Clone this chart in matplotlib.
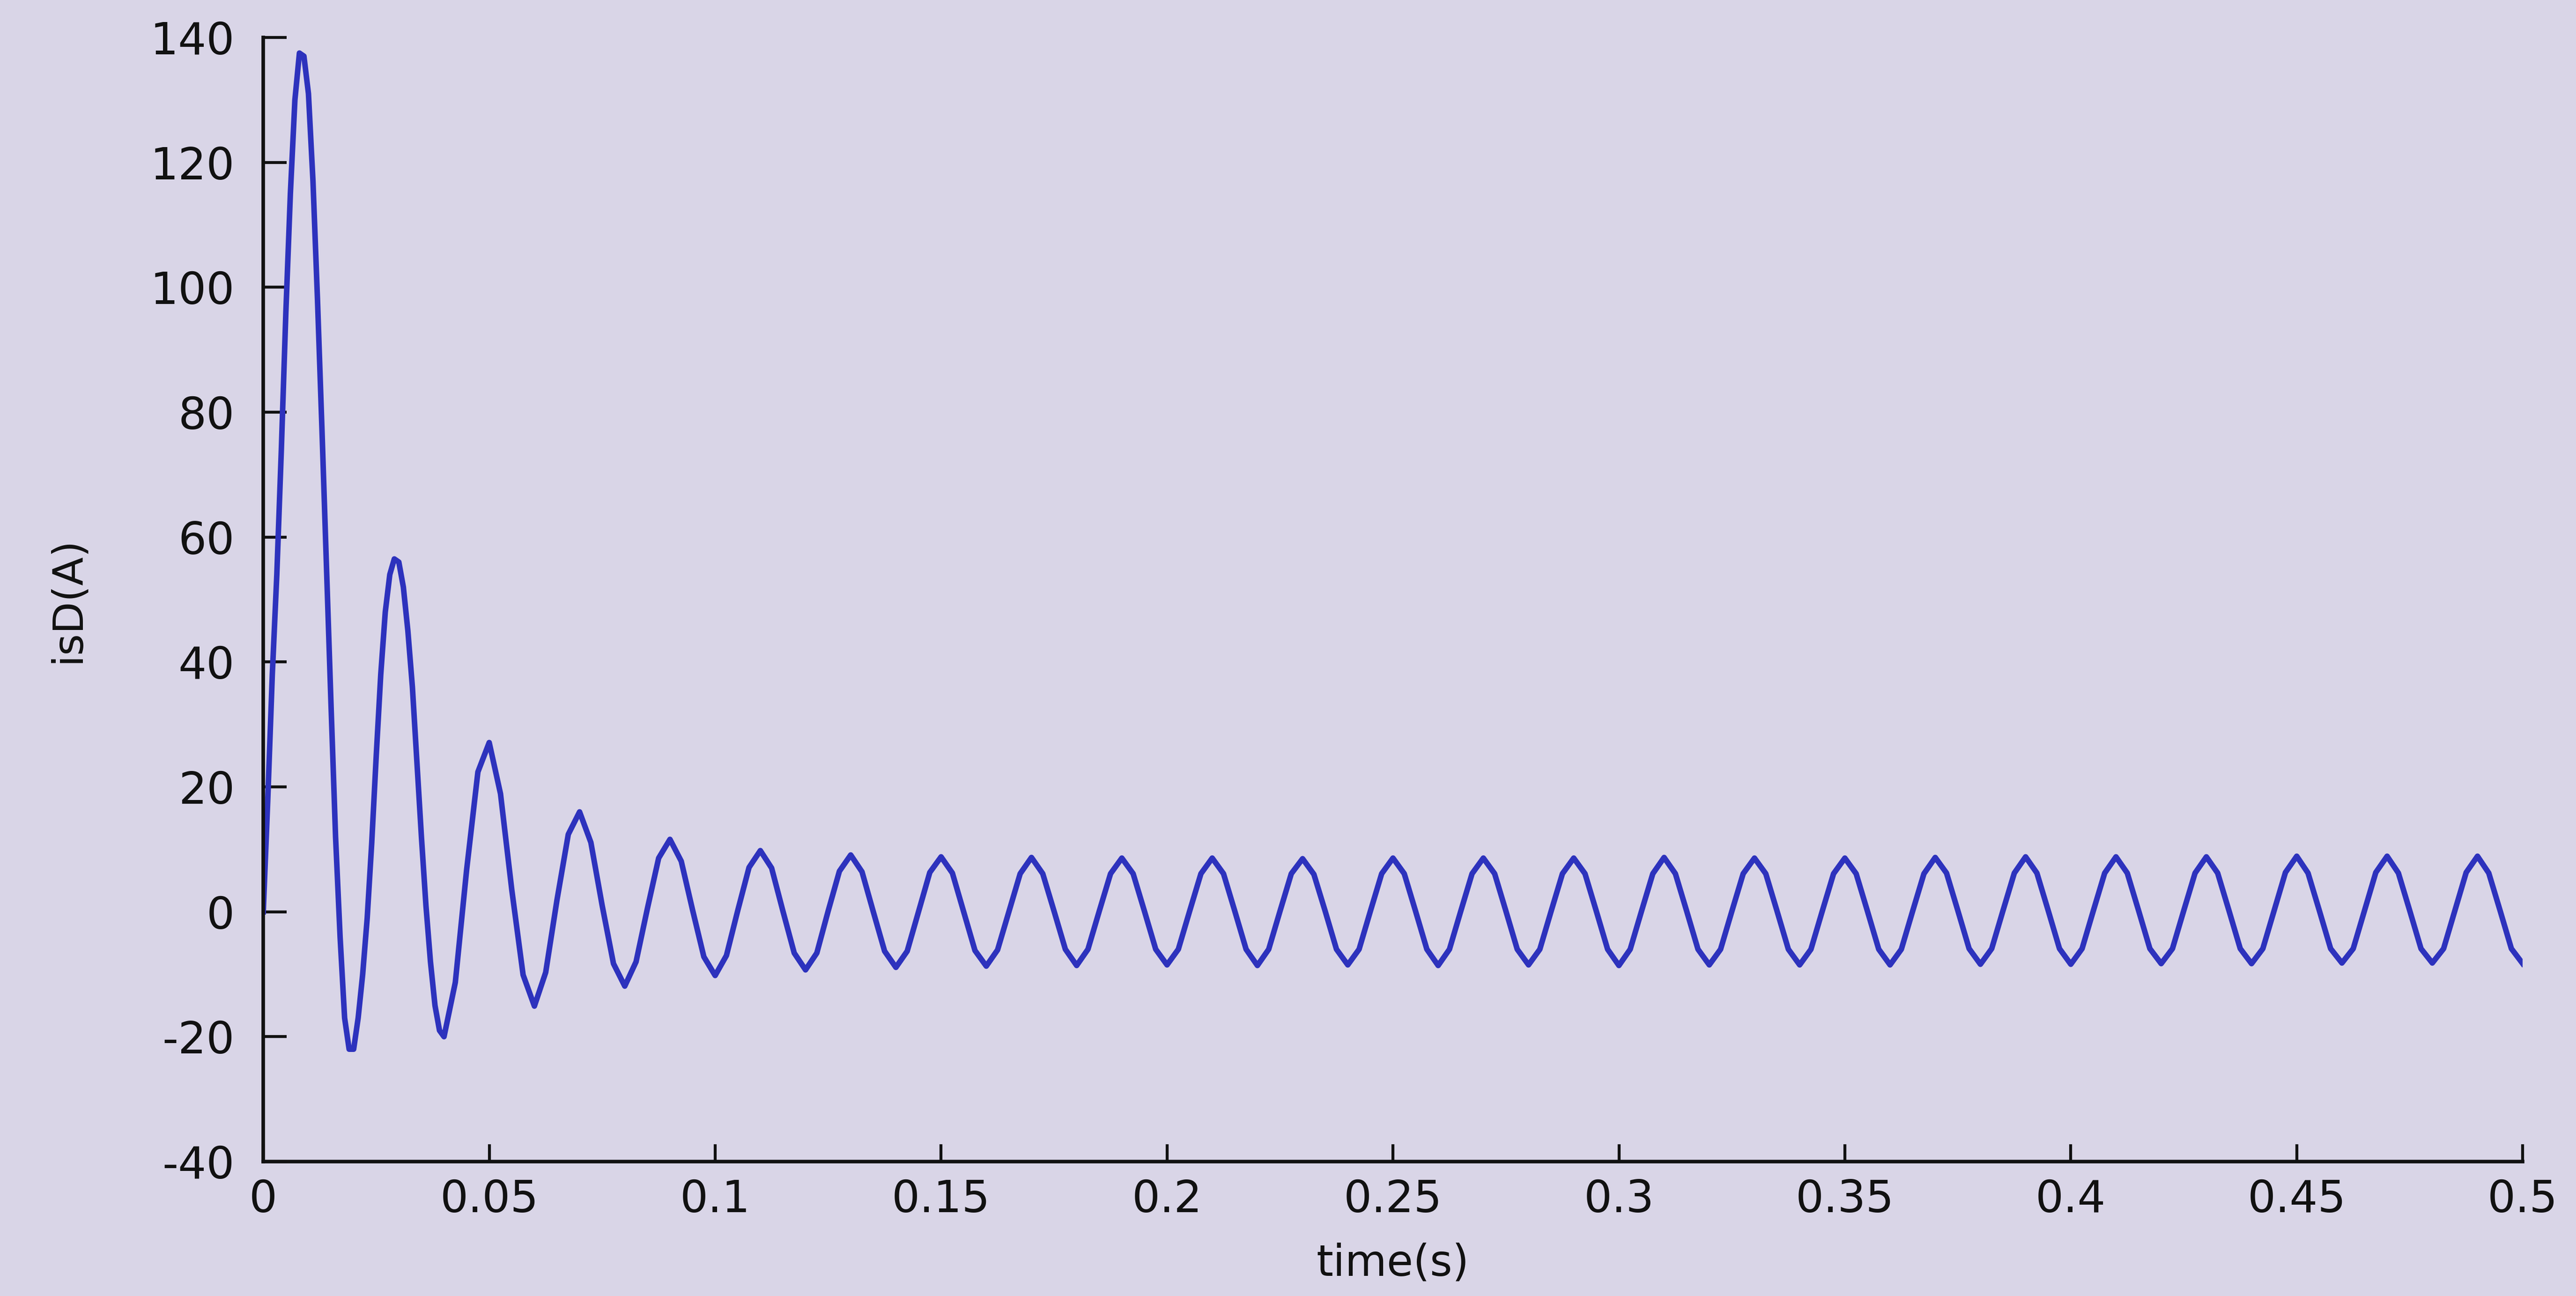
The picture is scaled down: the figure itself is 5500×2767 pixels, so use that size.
import numpy as np
import matplotlib
matplotlib.use("Agg")
import matplotlib.pyplot as plt

plt.rcParams["axes.unicode_minus"] = False

# ---- data (isD current, 50 Hz with decaying transient) ----
dt_start = 0.001      # first 40 ms read at 1 ms
dt = 0.0025           # rest read at 2.5 ms

i_start = [0, 18, 38, 54, 74, 96, 115, 130, 137.5, 137,
           131, 117, 98, 77, 55, 33, 12, -4, -17, -22,
           -22, -17, -10, -1, 11, 25, 38, 48, 54, 56.5,
           56, 52, 45, 36, 24, 12, 1, -8, -15, -19,
           -20]

# 0.0425 s .. 0.17 s
i_decay = [-11.3, 6.7, 22.4, 27.1, 18.9, 3.5, -10.1, -15.1,
           -9.7, 1.9, 12.4, 16.0, 11.1, 1.0, -8.3, -11.9,
           -8.0, 0.5, 8.6, 11.6, 8.1, 0.3, -7.2, -10.2,
           -7.0, 0.2, 7.1, 9.8, 7.0, 0.1, -6.6, -9.3,
           -6.6, 0.1, 6.5, 9.1, 6.4, 0.0, -6.3, -8.9,
           -6.3, 0.0, 6.3, 8.8, 6.2, 0.0, -6.2, -8.7,
           -6.1, 0.0, 6.1, 8.7]

# 0.1725 s .. 0.5 s, one cycle per row
i_steady = [6.1, 0.1, -6.0, -8.6, -6.0, 0.1, 6.1, 8.6,
            6.1, 0.1, -6.0, -8.5, -6.0, 0.1, 6.1, 8.6,
            6.1, 0.1, -6.0, -8.6, -6.0, 0.1, 6.1, 8.5,
            6.0, 0.1, -6.0, -8.5, -6.0, 0.1, 6.1, 8.6,
            6.1, 0.1, -6.0, -8.6, -6.0, 0.1, 6.1, 8.6,
            6.1, 0.1, -6.0, -8.5, -6.0, 0.1, 6.1, 8.6,
            6.1, 0.1, -6.0, -8.6, -6.0, 0.1, 6.1, 8.7,
            6.1, 0.1, -6.0, -8.5, -6.0, 0.1, 6.1, 8.6,
            6.1, 0.1, -6.0, -8.5, -6.0, 0.1, 6.1, 8.6,
            6.1, 0.1, -6.0, -8.5, -6.0, 0.1, 6.1, 8.7,
            6.2, 0.2, -5.9, -8.4, -5.9, 0.2, 6.2, 8.8,
            6.2, 0.2, -5.9, -8.4, -5.9, 0.2, 6.2, 8.8,
            6.2, 0.2, -5.9, -8.3, -5.9, 0.2, 6.2, 8.8,
            6.2, 0.2, -5.9, -8.3, -5.9, 0.2, 6.3, 8.9,
            6.2, 0.2, -5.9, -8.2, -5.9, 0.2, 6.3, 8.9,
            6.2, 0.2, -5.9, -8.2, -5.9, 0.2, 6.3, 8.9,
            6.2, 0.2, -5.9, -8.3]

x_ticks = [0, 0.05, 0.1, 0.15, 0.2, 0.25, 0.3, 0.35, 0.4, 0.45, 0.5]
x_tick_labels = ["0", "0.05", "0.1", "0.15", "0.2", "0.25", "0.3", "0.35", "0.4", "0.45", "0.5"]
y_ticks = [-40, -20, 0, 20, 40, 60, 80, 100, 120, 140]

t_start = np.arange(len(i_start)) * dt_start
t_decay = t_start[-1] + dt * (1 + np.arange(len(i_decay)))
t_steady = t_decay[-1] + dt * (1 + np.arange(len(i_steady)))
t = np.concatenate([t_start, t_decay, t_steady])
isd = np.concatenate([i_start, i_decay, i_steady])

# ---- figure ----
bg = "#d9d5e7"
fig = plt.figure(figsize=(55, 27.67), dpi=100, facecolor=bg)
ax = fig.add_axes([0.1022, 0.1037, 0.8771, 0.8674], facecolor=bg)

ax.plot(t, isd, color="#2d32bd", lw=8.5)

ax.set_xlim(0, 0.5)
ax.set_ylim(-40, 140)
ax.set_xticks(x_ticks)
ax.set_xticklabels(x_tick_labels)
ax.set_yticks(y_ticks)

for side in ("top", "right"):
    ax.spines[side].set_visible(False)
for side in ("left", "bottom"):
    ax.spines[side].set_linewidth(5.5)
    ax.spines[side].set_color("#111111")

ax.tick_params(axis="both", direction="in", width=4.5, color="#111111",
               labelsize=68, labelcolor="#111111")
ax.tick_params(axis="y", length=36, pad=44)
ax.tick_params(axis="x", length=27, pad=26)

ax.set_xlabel("time(s)", fontsize=66, color="#111111")
ax.set_ylabel("isD(A)", fontsize=64, color="#111111")
ax.xaxis.set_label_coords(0.5, -0.072)
ax.yaxis.set_label_coords(-0.0775, 0.5)

fig.savefig("out.png", dpi=100, facecolor=bg)
